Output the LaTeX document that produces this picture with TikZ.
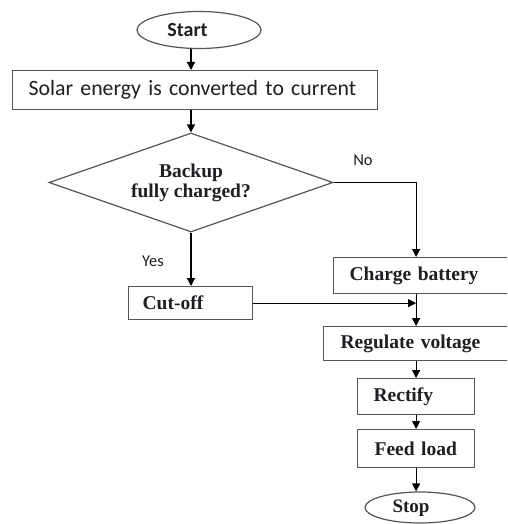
\documentclass[tikz,border=0pt]{standalone}
\usepackage{fontspec}
\setmainfont{Liberation Serif}
\newfontfamily\carlito{Carlito}
\usetikzlibrary{arrows.meta,shapes.geometric}
\definecolor{boxgray}{RGB}{85,85,85}
\definecolor{txt}{RGB}{30,30,35}
\begin{document}
\begin{tikzpicture}[x=1pt,y=-1pt,
  box/.style={draw=boxgray, line width=1.2pt, anchor=north west, align=left,
    inner ysep=0pt, text=txt, font=\fontsize{19.5}{22}\selectfont\bfseries},
  term/.style={draw=boxgray, line width=1.2pt, ellipse, inner sep=0pt},
  termtext/.style={text=txt, inner sep=0pt},
  lbl/.style={text=txt, inner sep=0pt, font=\carlito\fontsize{16.5}{18}\selectfont},
  arr/.style={line width=1.2pt, draw=black, -{Triangle[width=8pt,length=8pt]}}]
\useasboundingbox (0,0) rectangle (507,524);
\clip (0,0) rectangle (507,524);
\fill[white] (0,0) rectangle (507,524);

% terminals
\node[term, minimum width=124pt, minimum height=37pt] (start) at (199,30) {};
\node[termtext, font=\carlito\bfseries\fontsize{20}{22}\selectfont] (starttxt) at (187.5,30) {Start};

\node[term, minimum width=110pt, minimum height=31pt] (stop) at (420,507.5) {};
\node[termtext, font=\fontsize{19}{22}\selectfont\bfseries] (stoptxt) at (411,508) {Stop};

% process boxes
\node[box, font=\carlito\fontsize{21.8}{24}\selectfont, text width=333pt, inner xsep=16pt, minimum height=39pt] (solar) at (12,70) {Solar energy is converted to current};

\node[diamond, draw=boxgray, line width=1.2pt, aspect=2.87, minimum width=284pt, minimum height=99pt, inner sep=0pt, align=center, text=txt, font=\fontsize{19.5}{20}\selectfont\bfseries] (dia) at (191,182.5) {Backup\\fully charged?};

\node[box, text width=96pt, inner xsep=14pt, minimum height=33pt] (cut) at (128,286) {Cut-off};
\node[box, text width=168pt, inner xsep=16pt, minimum height=36pt] (charge) at (333,257) {Charge battery};
\node[box, text width=166pt, inner xsep=17pt, minimum height=34pt] (reg) at (323,326) {Regulate voltage};
\node[box, text width=85pt, inner xsep=16pt, minimum height=36pt] (rect) at (357,378) {Rectify};
\node[box, text width=83pt, inner xsep=17pt, minimum height=38pt] (feed) at (357,429) {Feed load};

% labels
\node[lbl] (no) at (363,160) {No};
\node[lbl] (yes) at (153,261) {Yes};

% connectors
\draw[arr] (start.south -| dia.north) -- (solar.north -| dia.north);
\draw[arr] (solar.south -| dia.north) -- (dia.north);
\draw[arr] (dia.east) -| (charge.north -| rect.north);
\draw[arr] (dia.south) -- (dia.south |- cut.north);
\draw[arr] (cut.east) -- (cut.east -| rect.north);
\draw[arr] (charge.south -| rect.north) -- (reg.north -| rect.north);
\draw[arr] (reg.south -| rect.north) -- (rect.north);
\draw[arr] (rect.south) -- (feed.north);
\draw[arr] (feed.south) -- (feed.south |- stop.north);
\end{tikzpicture}
\end{document}
